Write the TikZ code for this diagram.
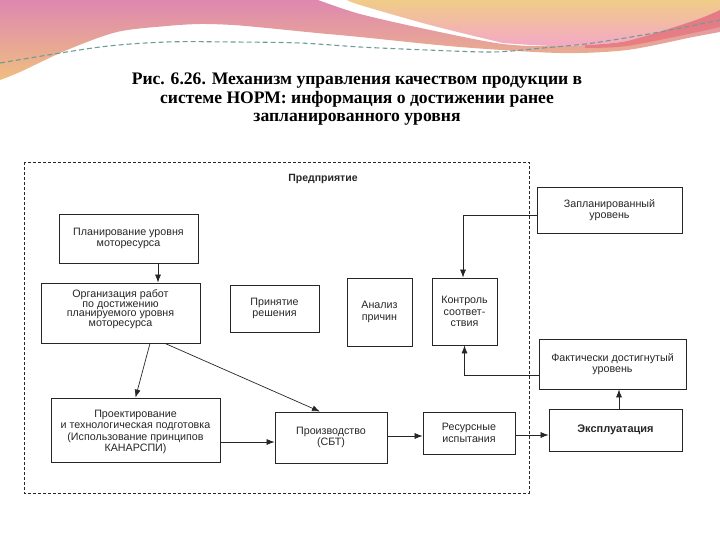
\documentclass[tikz,border=0pt]{standalone}
\usepackage{fontspec}
\setmainfont{Liberation Serif}
\setsansfont{Liberation Sans}
\usetikzlibrary{arrows.meta,calc}
\definecolor{decpink}{HTML}{DE88B0}
\definecolor{decorange}{HTML}{F0BE80}
\definecolor{decyellow}{HTML}{F0CC88}
\definecolor{decpink2}{HTML}{F4A8C6}
\definecolor{decred}{HTML}{E67880}
\definecolor{decdash}{HTML}{6E9C98}
\definecolor{boxline}{HTML}{262626}
\tikzset{
  box/.style={draw=boxline, line width=0.8pt, align=center, inner sep=2pt,
    font=\sffamily\fontsize{10.7}{11.3}\selectfont, text=black!85},
  arr/.style={draw=boxline, line width=0.7pt, -{Latex[length=8pt,width=6pt]}},
  encl/.style={draw=boxline, line width=0.7pt, dash pattern=on 3pt off 2pt},
}
\begin{document}
\begin{tikzpicture}[x=1pt,y=-1pt]
\useasboundingbox (0,0) rectangle (720,540);
% decoration: left wave with its lower band
\shade[top color=decpink, bottom color=decorange]
  (0,0) -- (318,0)
  -- plot[smooth] coordinates {(318,0) (360,14) (430,30) (503,44) (560,46) (627,41) (693,21) (720,10)}
  -- (720,32)
  -- plot[smooth] coordinates {(720,32) (693,37) (627,50) (560,53) (460,47) (360,37) (317,33) (267,28) (233,25) (200,24) (167,26) (117,32) (67,50) (20,72) (0,80)}
  -- cycle;
% right wave
\shade[top color=decyellow, bottom color=decpink2]
  (347,0) -- (720,0) -- (720,10)
  -- plot[smooth] coordinates {(720,10) (693,21) (627,41) (560,46) (503,43)}
  -- plot[smooth] coordinates {(503,43) (430,25) (360,5) (347,0)}
  -- cycle;
% red band
\fill[decred, opacity=0.85]
  plot[smooth] coordinates {(585,45) (627,41) (693,21) (720,10)}
  -- (720,27)
  -- plot[smooth] coordinates {(720,27) (693,33) (627,46) (585,48)} -- cycle;
\draw[decdash, line width=1.1pt, dash pattern=on 5pt off 3pt]
  plot[smooth] coordinates {(0,63) (100,47) (167,42) (233,42) (300,43) (360,47) (427,50) (493,52) (543,48) (593,43) (660,32) (720,20)};
% title
\node[align=center, font=\bfseries\fontsize{17.6}{18.5}\selectfont] (title) at (357,99.5)
  {Рис. 6.26. Механизм управления качеством продукции в\\системе НОРМ: информация о достижении ранее\\запланированного уровня};
% enclosure
\draw[encl] (24,162) rectangle (529,493);
\node[font=\sffamily\bfseries\fontsize{10.5}{11}\selectfont, text=black!85] (ent) at (323,179) {Предприятие};
% boxes
\node[box, minimum width=139pt, minimum height=49pt] (plan) at (128.5,238.5) {Планирование уровня\\моторесурса};
\node[box, minimum width=159pt, minimum height=60pt, font=\sffamily\fontsize{10.7}{9.8}\selectfont] (org) at (120.5,313) {Организация работ\\по достижению\\планируемого уровня\\моторесурса\\\mbox{}};
\node[box, minimum width=89pt, minimum height=47pt] (prin) at (274.5,308.5) {Принятие\\решения};
\node[box, minimum width=65pt, minimum height=68pt] (anal) at (379.5,312) {Анализ\\причин};
\node[box, minimum width=65pt, minimum height=67pt] (kontr) at (464.5,311.5) {Контроль\\соответ-\\ствия};
\node[box, minimum width=145pt, minimum height=46pt] (zapl) at (609.5,210) {Запланированный\\уровень};
\node[box, minimum width=147pt, minimum height=50pt] (fakt) at (612.5,364) {Фактически достигнутый\\уровень};
\node[box, minimum width=169pt, minimum height=64pt] (proekt) at (135.5,430) {\mbox{}\\Проектирование\\и технологическая подготовка\\(Использование принципов\\КАНАРСПИ)};
\node[box, minimum width=112pt, minimum height=51pt] (proizv) at (331,437.5) {Производство\\(СБТ)};
\node[box, minimum width=92pt, minimum height=42pt] (resurs) at (469,433) {Ресурсные\\испытания};
\node[box, minimum width=133pt, minimum height=42pt, font=\sffamily\bfseries\fontsize{11}{11.3}\selectfont] (ekspl) at (615.5,430) {Эксплуатация};
% connectors
\draw[arr] ([xshift=29.5pt]plan.south) -- ([xshift=29.5pt]plan.south |- org.north);
\draw[arr] ([xshift=29.5pt]org.south) -- (proekt.north);
\draw[arr] ([xshift=44.5pt]org.south) -- ([xshift=-11pt]proizv.north);
\draw[arr] ([yshift=-12pt]proekt.east) -- ([yshift=-12pt]proekt.east -| proizv.west);
\draw[arr] ([yshift=1.5pt]proizv.east) -- ([yshift=1.5pt]proizv.east -| resurs.west);
\draw[arr] ([yshift=-2pt]resurs.east) -- ([yshift=-2pt]resurs.east -| ekspl.west);
\draw[arr] ([xshift=3.5pt]ekspl.north) -- ([xshift=3.5pt]ekspl.north |- fakt.south);
\draw[arr] ([yshift=-5pt]zapl.west) -| ([xshift=-1.5pt]kontr.north);
\draw[arr] ([yshift=-11pt]fakt.west) -| (kontr.south);
\end{tikzpicture}
\end{document}
